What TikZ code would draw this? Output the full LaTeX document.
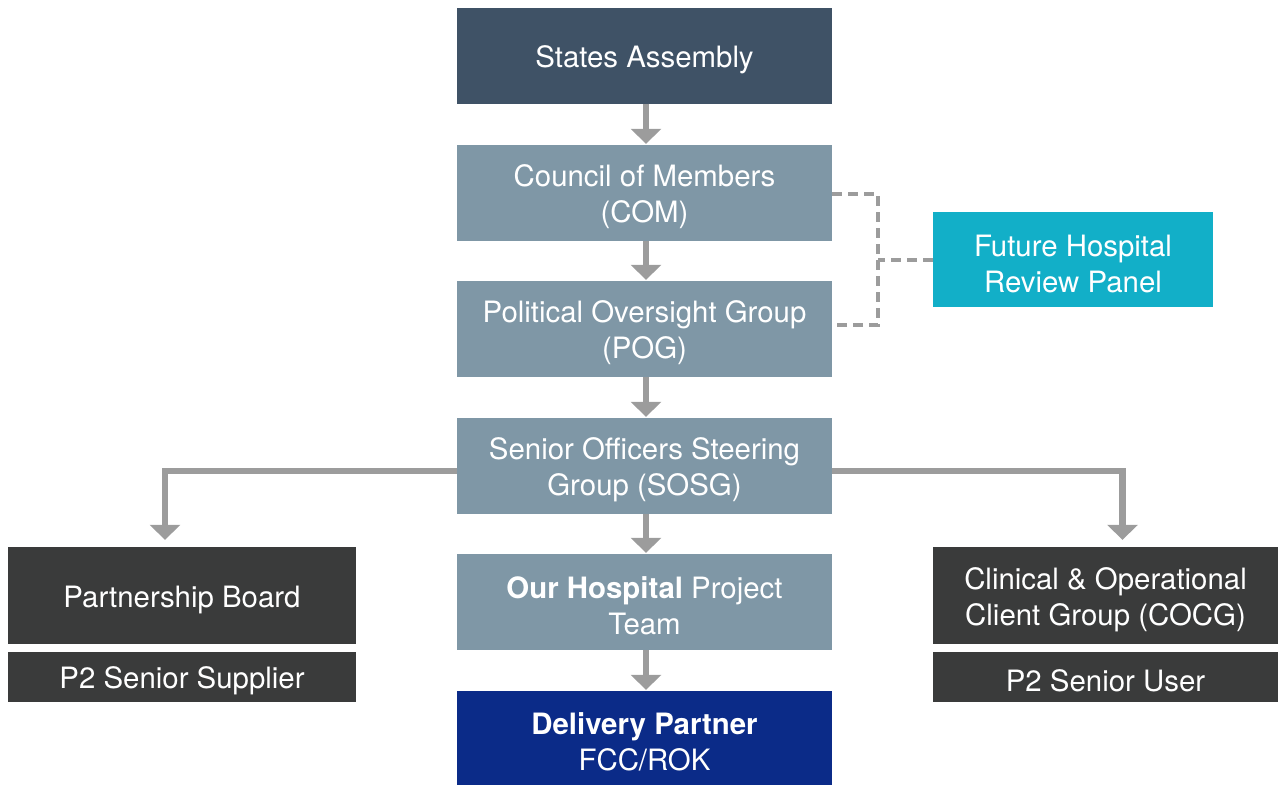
\documentclass[tikz,border=0pt]{standalone}
\usepackage{fontspec}
\setmainfont{TeX Gyre Heros}
\usetikzlibrary{arrows.meta}
\definecolor{slate}{HTML}{3F5266}
\definecolor{steel}{HTML}{7F97A6}
\definecolor{teal}{HTML}{12AFC8}
\definecolor{charcoal}{HTML}{3A3B3B}
\definecolor{navy}{HTML}{0B2B88}
\definecolor{connector}{HTML}{9C9C9C}
\begin{document}
\begin{tikzpicture}[x=1pt,y=-1pt,
  box/.style={inner sep=0pt, minimum width=375pt, minimum height=96pt},
  caption/.style={inner sep=0pt, text=white, align=center, yshift=-4pt,
    font=\fontsize{29.4}{36}\selectfont},
  wide/.style={box, minimum width=348pt},
  wider/.style={box, minimum width=345pt},
  arr/.style={draw=connector, line width=6.5pt,
    -{Triangle[width=30pt,length=15pt]}, shorten >=1pt},
  dashline/.style={draw=connector, line width=4pt, dash pattern=on 10pt off 6pt}]
\useasboundingbox (0,0) rectangle (1278,785);

% main chain
\node[box, fill=slate, label={[caption]center:{States Assembly}}] (sa) at (644.5,55.5) {};
\node[box, fill=steel, label={[caption]center:{Council of Members\\(COM)}}] (com) at (644.5,193) {};
\node[box, fill=steel, label={[caption]center:{Political Oversight Group\\(POG)}}] (pog) at (644.5,329) {};
\node[box, fill=steel, label={[caption]center:{Senior Officers Steering\\Group (SOSG)}}] (sosg) at (644.5,466) {};
\node[box, fill=steel, label={[caption]center:{\textbf{Our Hospital} Project\\Team}}] (oht) at (644.5,602) {};
\node[box, fill=navy, minimum height=94pt, label={[caption]center:{\textbf{Delivery Partner}\\FCC/ROK}}] (dp) at (644.5,738) {};

% review panel
\node[box, fill=teal, minimum width=280pt, minimum height=95pt,
  label={[caption]center:{Future Hospital\\Review Panel}}] (fh) at (1073,259.5) {};

% side groups
\node[wide, fill=charcoal, minimum height=97pt, label={[caption]center:{Partnership Board}}] (pb) at (182,595.5) {};
\node[wide, fill=charcoal, minimum height=50pt, label={[caption]center:{P2 Senior Supplier}}] (pss) at (182,677) {};
\node[wider, fill=charcoal, minimum height=97pt, label={[caption]center:{Clinical \& Operational\\Client Group (COCG)}}] (cocg) at (1105.5,595.5) {};
\node[wider, fill=charcoal, minimum height=50pt, label={[caption]center:{P2 Senior User}}] (psu) at (1105.5,677) {};

% connectors down the chain
\draw[arr] ([xshift=1.5pt]sa.south) -- ([xshift=1.5pt]com.north);
\draw[arr] ([xshift=1.5pt]com.south) -- ([xshift=1.5pt]pog.north);
\draw[arr] ([xshift=1.5pt]pog.south) -- ([xshift=1.5pt]sosg.north);
\draw[arr] ([xshift=1.5pt]sosg.south) -- ([xshift=1.5pt]oht.north);
\draw[arr] ([xshift=1.5pt]oht.south) -- ([xshift=1.5pt]dp.north);

% branches to the side groups
\draw[arr] ([yshift=-5pt]sosg.west) -| ([xshift=-17pt,yshift=6pt]pb.north);
\draw[arr] ([yshift=-5pt]sosg.east) -| ([xshift=17pt,yshift=6pt]cocg.north);

% dashed link to the review panel
\draw[dashline] ([yshift=-1pt]com.east) -- ++(46,0) coordinate (bk)
  |- ([yshift=4pt]pog.east);
\draw[dashline] (fh.west) -- (fh.west -| bk);
\end{tikzpicture}
\end{document}
